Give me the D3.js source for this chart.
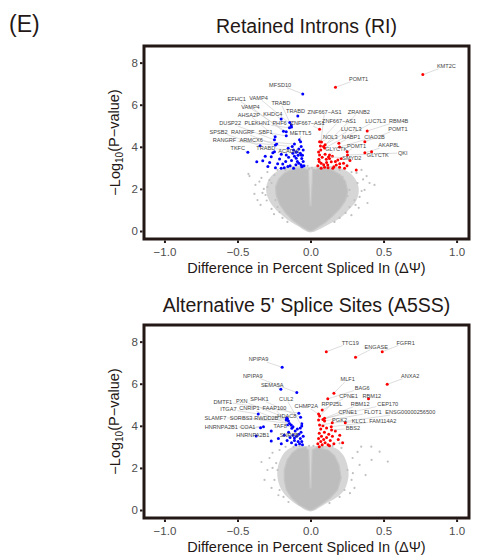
<!DOCTYPE html>
<html><head><meta charset="utf-8">
<script src="https://cdn.jsdelivr.net/npm/d3@7"></script>
<style>body{margin:0;background:#fff} text{font-family:"Liberation Sans",Arial,Helvetica,sans-serif}</style>
</head><body>
<svg id="c" width="478" height="559"></svg>
<script>
// ---------- shared axis data ----------
const xTicks = [-1.0, -0.5, 0.0, 0.5, 1.0];
const yTicks = [0, 2, 4, 6, 8];
const panelLetter = "(E)";
const titles = ["Retained Introns (RI)", "Alternative 5' Splice Sites (A5SS)"];
const xLabel = "Difference in Percent Spliced In (\u0394\u03A8)";

// ---------- Retained Introns (RI) ----------
// dense non-significant core outline [dPSI, -log10 P]
const riCore = [[-0.01,0],[-0.06,0.2],[-0.12,0.5],[-0.17,0.85],[-0.21,1.25],[-0.235,1.7],[-0.24,2.1],[-0.22,2.45],[-0.18,2.75],[-0.12,2.95],[-0.06,3.0],[-0.015,2.9],[-0.004,1.2],[0.004,1.2],[0.015,2.9],[0.07,3.0],[0.14,2.92],[0.2,2.7],[0.24,2.35],[0.255,1.9],[0.24,1.45],[0.2,1.05],[0.15,0.7],[0.1,0.4],[0.045,0.15],[0.01,0]];
// sparser halo outline around the core
const riHalo = [[-0.015,-0.05],[-0.09,0.25],[-0.16,0.55],[-0.22,0.9],[-0.27,1.3],[-0.3,1.75],[-0.3,2.2],[-0.27,2.6],[-0.2,2.95],[-0.1,3.1],[0,3.05],[0.1,3.1],[0.2,3.0],[0.28,2.7],[0.32,2.3],[0.33,1.85],[0.31,1.4],[0.26,1.0],[0.2,0.6],[0.12,0.3],[0.015,-0.05]];
// scattered non-significant events
const riGray = [[-0.425,2.71],[-0.418,2.61],[-0.363,1.47],[-0.329,1.81],[-0.295,2.09],[-0.281,2.42],[-0.247,2.66],[-0.267,2.28],[-0.308,1.71],[-0.342,1.24],[-0.267,1.05],[-0.226,1.14],[-0.212,0.9],[-0.24,1.47],[-0.192,0.62],[-0.158,0.43],[-0.295,2.8],[-0.336,2.52],[-0.377,2.19],[-0.384,1.76],[-0.226,2.9],[-0.171,2.9],[-0.116,2.85],[-0.055,2.9],[-0.034,2.66],[-0.01,2.95],[0.01,3.0],[-0.02,3.1],[-0.32,2.0],[-0.3,1.45],[-0.25,0.8],[-0.35,2.35],
  [0.219,2.57],[0.233,2.33],[0.267,1.95],[0.315,2.76],[0.322,2.28],[0.384,2.61],[0.37,1.95],[0.336,1.62],[0.301,1.47],[0.267,1.14],[0.24,0.86],[0.199,0.62],[0.164,0.43],[0.404,2.28],[0.349,2.9],[0.281,2.8],[0.199,2.9],[0.13,2.9],[0.062,2.85],[0.253,1.66],[0.308,1.24],[0.438,2.19],[0.39,1.33],[0.02,2.9],[0.35,1.9],[0.33,1.1],[0.28,0.75],[0.36,2.45]];
// significant, dPSI < 0 (blue)
const riDown = [[-0.368,3.29],[-0.327,3.34],[-0.292,3.06],[-0.269,3.53],[-0.258,3.72],[-0.212,3.42],[-0.19,3.18],[-0.166,3.61],[-0.153,3.93],[-0.121,3.69],[-0.098,3.46],[-0.08,3.22],[-0.064,3.61],[-0.057,3.06],[-0.116,2.98],[-0.155,3.06],[-0.201,2.98],[-0.247,3.77],[-0.231,4.13],[-0.064,4.01],[-0.075,4.33],
  [-0.05,3.3],[-0.06,3.45],[-0.07,3.7],[-0.09,3.3],[-0.1,3.15],[-0.11,3.55],[-0.13,3.35],[-0.14,3.1],[-0.05,3.85],[-0.06,3.05],[-0.08,3.9],[-0.1,3.75],[-0.17,3.3],[-0.18,3.0],[-0.225,3.2],[-0.24,3.0],[-0.28,3.25],[-0.31,3.55],[-0.2,3.65],[-0.15,3.5],[-0.055,3.6],[-0.065,3.15],[-0.085,3.6],[-0.045,3.1]];
// significant, dPSI > 0 (red)
const riUp = [[0.057,3.41],[0.073,3.22],[0.096,3.03],[0.118,3.14],[0.142,3.29],[0.176,3.14],[0.199,3.03],[0.226,3.22],[0.233,2.98],[0.313,2.9],[0.073,2.98],[0.108,3.41],[0.153,2.98],[0.187,3.37],[0.062,3.61],
  [0.05,3.1],[0.06,3.3],[0.08,3.5],[0.09,3.15],[0.11,3.25],[0.12,3.0],[0.13,3.45],[0.16,3.05],[0.17,3.3],[0.2,3.2],[0.21,3.45],[0.25,3.1],[0.055,3.75],[0.07,3.85],[0.1,3.65],[0.15,3.55],[0.27,3.35]];
// labelled events: gene, dPSI, -log10P, label dPSI, label -log10P, direction
const riLabels = [
  ["KMT2C",0.769,7.43,0.93,7.84,"u"],["POMT1",0.171,6.83,0.329,7.22,"u"],["MFSD10",-0.053,6.51,-0.208,6.94,"d"],
  ["TRABD",-0.087,5.47,-0.103,5.70,"d"],["TRABD",-0.142,5.15,-0.203,6.07,"d"],["EFHC1",-0.166,4.71,-0.505,6.27,"d"],
  ["VAMP4",-0.132,5.04,-0.356,6.34,"d"],["VAMP4",-0.185,4.74,-0.411,5.91,"d"],["KHDC4",-0.201,5.32,-0.258,5.56,"d"],
  ["AHSA2P",-0.242,4.48,-0.422,5.53,"d"],["DUSP22",-0.247,4.33,-0.55,5.12,"d"],["PLEKHN1",-0.144,4.9,-0.365,5.12,"d"],
  ["PHF6",-0.13,4.94,-0.212,5.12,"d"],["SPSB2",-0.345,4.05,-0.63,4.72,"d"],["RANGRF",-0.24,4.09,-0.464,4.69,"d"],
  ["SBF1",-0.166,4.52,-0.308,4.69,"d"],["METTL5",-0.068,4.24,-0.068,4.64,"d"],["RANGRF",-0.125,4.01,-0.589,4.31,"d"],
  ["ARMCX6",-0.11,4.13,-0.406,4.31,"d"],["TKFC",-0.429,3.74,-0.498,3.93,"d"],["TRABD",-0.116,3.85,-0.306,3.93,"d"],
  ["ACADVL",-0.096,3.75,-0.144,3.82,"d"],
  ["ZNF667\u2212AS1",0.068,4.04,0.096,5.67,"u"],["ZRANB2",0.089,4.01,0.331,5.67,"u"],["ZNF667\u2212AS1",0.062,4.24,0.195,5.23,"u"],
  ["ZNF667\u2212AS1",0.062,4.83,-0.02,5.12,"u"],["LUC7L3",0.096,3.94,0.445,5.23,"u"],["RBM4B",0.388,4.75,0.603,5.23,"u"],
  ["LUC7L3",0.1,4.1,0.279,4.85,"u"],["POMT1",0.372,4.24,0.598,4.85,"u"],["NOL3",0.075,4.23,0.135,4.47,"u"],
  ["NABP1",0.194,4.17,0.279,4.47,"u"],["CIAO2B",0.199,3.99,0.438,4.47,"u"],["AKAP8L",0.372,3.72,0.536,4.07,"u"],
  ["GLYCTK",0.13,3.61,0.176,3.91,"u"],["POMT1",0.251,3.77,0.315,4.04,"u"],["SMYD2",0.123,3.52,0.283,3.47,"u"],
  ["GLYCTK",0.418,3.77,0.461,3.6,"u"],["QKI",0.253,3.61,0.632,3.71,"u"]
];

// ---------- Alternative 5' Splice Sites (A5SS) ----------
const a5Core = [[-0.012,0],[-0.08,0.25],[-0.13,0.58],[-0.165,0.95],[-0.18,1.43],[-0.18,1.9],[-0.16,2.38],[-0.125,2.72],[-0.085,2.92],[-0.04,2.97],[-0.012,2.85],[-0.004,1.05],[0.004,1.05],[0.012,2.85],[0.045,2.97],[0.12,2.85],[0.165,2.58],[0.195,2.14],[0.21,1.52],[0.185,0.95],[0.135,0.57],[0.068,0.24],[0.012,0]];
const a5Halo = [[-0.015,-0.05],[-0.1,0.28],[-0.165,0.65],[-0.205,1.05],[-0.225,1.5],[-0.225,2.0],[-0.2,2.5],[-0.16,2.85],[-0.09,3.05],[0,3.02],[0.09,3.05],[0.17,2.95],[0.22,2.65],[0.25,2.2],[0.26,1.6],[0.235,1.0],[0.18,0.6],[0.1,0.28],[0.015,-0.05]];
const a5Gray = [[-0.26,2.72],[-0.235,2.23],[-0.281,2.47],[-0.226,1.9],[-0.247,1.43],[-0.212,0.95],[-0.185,0.62],[-0.151,0.38],[-0.295,1.9],[-0.315,1.43],[-0.336,2.28],[-0.212,2.85],[-0.171,3.0],[-0.116,3.0],[-0.075,3.04],[-0.034,2.95],[-0.267,1.05],[-0.01,3.05],[-0.26,2.0],[-0.22,0.7],
  [0.347,3.01],[0.416,3.01],[0.473,2.77],[0.529,2.3],[0.288,2.47],[0.253,1.9],[0.281,1.43],[0.233,0.95],[0.199,0.62],[0.13,0.33],[0.336,2.14],[0.377,1.66],[0.322,2.76],[0.212,2.95],[0.151,3.04],[0.082,3.0],[0.418,2.38],[0.301,1.05],[0.199,3.17],[0.02,3.05],[0.29,1.75],[0.27,0.8]];
const a5Down = [[-0.269,3.75],[-0.269,3.28],[-0.14,3.45],[-0.13,3.2],[-0.12,3.55],[-0.11,3.3],[-0.1,3.1],[-0.095,3.5],[-0.085,3.25],[-0.08,3.6],[-0.075,3.15],[-0.07,3.4],[-0.065,3.7],[-0.06,3.25],[-0.055,3.1],[-0.05,3.5],[-0.105,3.75],[-0.09,3.85],[-0.16,3.3],[-0.18,3.55],[-0.2,3.15],[-0.22,3.4],[-0.15,3.7],[-0.07,3.9],[-0.06,4.1],[-0.155,4.05]];
const a5Up = [[0.05,3.15],[0.055,3.4],[0.06,3.65],[0.07,3.25],[0.075,3.5],[0.08,3.1],[0.09,3.35],[0.095,3.7],[0.1,3.2],[0.11,3.45],[0.12,3.1],[0.125,3.6],[0.135,3.3],[0.15,3.5],[0.16,3.15],[0.17,3.75],[0.19,3.35],[0.2,3.55],[0.07,3.85],[0.085,4.0],[0.11,3.9],[0.06,3.0],[0.13,3.05],[0.22,3.2]];
const a5Labels = [
  ["TTC19",0.108,7.52,0.272,7.95,"u"],["ENGASE",0.308,7.26,0.45,7.76,"u"],["FGFR1",0.491,7.52,0.651,7.95,"u"],
  ["NPIPA9",-0.194,6.78,-0.356,7.16,"d"],["NPIPA9",-0.094,5.58,-0.395,6.38,"d"],["SEMA5A",-0.203,5.74,-0.262,5.94,"d"],
  ["MLF1",0.16,5.55,0.255,6.23,"u"],["ANXA2",0.525,5.97,0.683,6.37,"u"],["BAG6",0.118,5.28,0.354,5.8,"u"],
  ["CPNE1",0.08,4.75,0.26,5.42,"u"],["RBM12",0.397,5.28,0.42,5.42,"u"],["RPP25L",0.062,4.47,0.146,5.04,"u"],
  ["RBM12",0.096,4.36,0.34,5.04,"u"],["CEP170",0.055,4.28,0.529,5.04,"u"],["CHMP2A",0.055,4.56,-0.029,4.94,"u"],
  ["CPNE1",0.085,4.3,0.255,4.67,"u"],["FLOT1",0.096,4.23,0.427,4.64,"u"],["ENSG00000256500",0.062,4.04,0.683,4.64,"u"],
  ["PGK2",0.149,4.15,0.199,4.28,"u"],["KLC1",0.238,4.15,0.331,4.24,"u"],["FAM114A2",0.142,3.96,0.495,4.24,"u"],
  ["BBS2",0.144,3.8,0.29,3.88,"u"],
  ["DMTF1",-0.08,4.6,-0.6,5.15,"d"],["PXN",-0.164,4.37,-0.47,5.19,"d"],["SPHK1",-0.068,4.41,-0.349,5.28,"d"],
  ["CUL2",-0.06,3.99,-0.166,5.28,"d"],["ITGA7",-0.358,4.56,-0.562,4.79,"d"],["CNRIP1",-0.132,4.04,-0.418,4.83,"d"],
  ["FAAP100",-0.128,3.88,-0.247,4.83,"d"],["HDAC8",-0.151,4.23,-0.162,4.48,"d"],["SLAMF7",-0.166,4.28,-0.651,4.39,"d"],
  ["SORBS3",-0.144,4.11,-0.475,4.39,"d"],["RWDD2B",-0.158,4.33,-0.303,4.39,"d"],["TAF8",-0.12,3.95,-0.208,4.01,"d"],
  ["HNRNPA2B1",-0.342,3.91,-0.611,3.96,"d"],["COA1",-0.322,3.96,-0.429,3.96,"d"],["HNRNPA2B1",-0.372,3.52,-0.395,3.56,"d"],
  ["SNRPB",-0.11,3.42,-0.144,3.56,"d"]
];

// ---------- drawing ----------
const svg = d3.select("#c");
const X0 = 144, X1 = 469, PH = 193;
const ink = "#231815";
const x = d3.scaleLinear().domain([-1.14, 1.085]).range([X0, X1]);
const col = {u: "#ff0000", d: "#0000ff"};

svg.append("rect").attr("width", 478).attr("height", 559).attr("fill", "#fff");
svg.append("text").attr("x", 9).attr("y", 32).attr("font-size", 23).attr("fill", ink).text(panelLetter);

function drawPanel(top, title, core, halo, gray, down, up, labels) {
  const y = d3.scaleLinear().domain([-0.38, 8.79]).range([top + PH, top]);
  const g = svg.append("g");
  g.append("text").attr("x", (X0 + X1) / 2).attr("y", top - 13).attr("text-anchor", "middle")
    .attr("font-size", 19.5).attr("fill", ink).text(title);

  const cid = "clip" + top;
  g.append("clipPath").attr("id", cid).append("rect").attr("x", X0).attr("y", top).attr("width", X1 - X0).attr("height", PH);
  const pg = g.append("g").attr("clip-path", `url(#${cid})`);

  const smooth = d3.line().x(d => x(d[0])).y(d => y(d[1])).curve(d3.curveCatmullRomClosed.alpha(0.5));
  const straight = d3.line().x(d => x(d[0])).y(d => y(d[1])).curve(d3.curveLinearClosed);
  pg.append("path").attr("d", smooth(halo)).attr("fill", "#d6d6d6");
  pg.append("path").attr("d", straight(core)).attr("fill", "#bdbdbd").attr("stroke", "#c6c6c6").attr("stroke-width", 1.2).attr("stroke-linejoin", "round");
  pg.selectAll(".g").data(gray).join("circle").attr("cx", d => x(d[0])).attr("cy", d => y(d[1])).attr("r", 1.1).attr("fill", "#c0c0c0");
  pg.selectAll(".b").data(down).join("circle").attr("cx", d => x(d[0])).attr("cy", d => y(d[1])).attr("r", 1.5).attr("fill", col.d);
  pg.selectAll(".r").data(up).join("circle").attr("cx", d => x(d[0])).attr("cy", d => y(d[1])).attr("r", 1.5).attr("fill", col.u);

  const lg = pg.append("g"), tg = pg.append("g");
  labels.forEach(L => {
    const [name, px, py, lx, ly, dir] = L;
    const t = tg.append("text").attr("x", x(lx)).attr("y", y(ly)).attr("dy", "0.35em").attr("text-anchor", "middle")
      .attr("font-size", 5.6).attr("fill", "#444").text(name);
    const bb = t.node().getBBox();
    const cx = x(lx), cy = y(ly), ppx = x(px), ppy = y(py);
    const hw = bb.width / 2 + 0.8, hh = 2.8;
    const dx = ppx - cx, dy = ppy - cy;
    const tx = dx === 0 ? Infinity : hw / Math.abs(dx), ty = dy === 0 ? Infinity : hh / Math.abs(dy);
    const tt = Math.min(tx, ty);
    if (tt < 1) {
      lg.append("line").attr("x1", ppx).attr("y1", ppy).attr("x2", cx + dx * tt).attr("y2", cy + dy * tt)
        .attr("stroke", "#cfcfcf").attr("stroke-width", 0.7);
    }
    pg.append("circle").attr("cx", ppx).attr("cy", ppy).attr("r", 1.5).attr("fill", col[dir]);
  });
  tg.raise();

  const ya = g.append("g").attr("transform", `translate(${X0 - 1.5},0)`)
    .call(d3.axisLeft(y).tickValues(yTicks).tickSize(2.5).tickPadding(2).tickFormat(d3.format("d")));
  const xa = g.append("g").attr("transform", `translate(0,${top + PH + 1.5})`)
    .call(d3.axisBottom(x).tickValues(xTicks).tickSize(2.5).tickPadding(5).tickFormat(d3.format(".1f")));
  [ya, xa].forEach(a => {
    a.select(".domain").remove();
    a.selectAll("line").attr("stroke", ink).attr("stroke-width", 2);
    a.selectAll("text").attr("font-size", 11.5).attr("fill", "#4d4d4d").attr("font-family", '"Liberation Sans",Arial,sans-serif');
  });

  g.append("rect").attr("x", X0).attr("y", top).attr("width", X1 - X0).attr("height", PH)
    .attr("fill", "none").attr("stroke", ink).attr("stroke-width", 3);

  const yl = g.append("text").attr("transform", `translate(120,${top + PH / 2}) rotate(-90)`)
    .attr("text-anchor", "middle").attr("font-size", 14.5).attr("fill", ink);
  yl.append("tspan").text("\u2212Log");
  yl.append("tspan").attr("font-size", 10).attr("dy", "0.3em").text("10");
  yl.append("tspan").attr("dy", "-0.3em").text("(P\u2212value)");
  g.append("text").attr("x", (X0 + X1) / 2).attr("y", top + PH + 34).attr("text-anchor", "middle")
    .attr("font-size", 14.5).attr("fill", ink).text(xLabel);
}

drawPanel(46, titles[0], riCore, riHalo, riGray, riDown, riUp, riLabels);
drawPanel(325, titles[1], a5Core, a5Halo, a5Gray, a5Down, a5Up, a5Labels);
</script>
</body></html>
